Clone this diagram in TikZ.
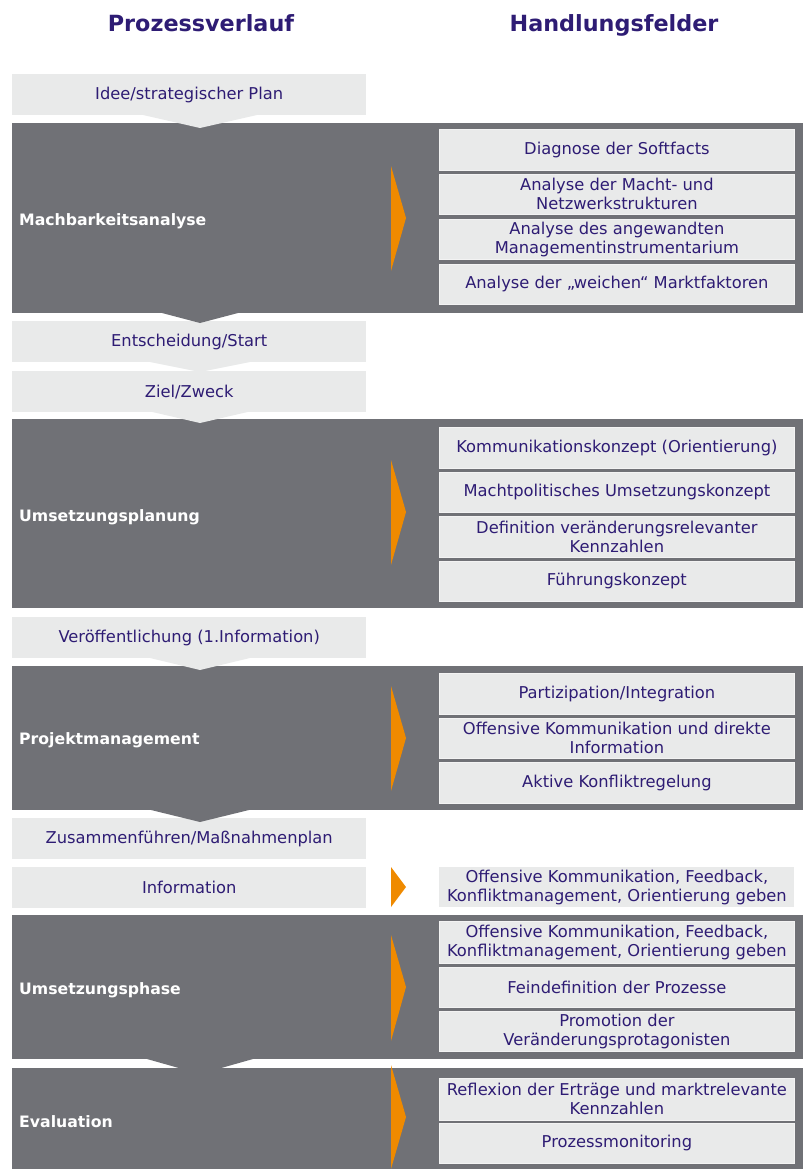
\documentclass[tikz,border=0pt]{standalone}
\usepackage{fontspec}
\setmainfont{DejaVu Sans}
\usetikzlibrary{calc}
\definecolor{darkbar}{HTML}{707176}
\definecolor{lightbox}{HTML}{E9EAEA}
\definecolor{boxedge}{HTML}{F3F3F3}
\definecolor{txt}{HTML}{2E1C74}
\definecolor{orng}{HTML}{EF8A00}
\begin{document}
\begin{tikzpicture}[x=1pt,y=-1pt,
  phasebox/.style={fill=darkbar, draw=none, minimum width=791pt, inner sep=0pt, anchor=north west},
  lbox/.style={fill=lightbox, draw=none, text=txt, font=\fontsize{16.3}{19}\selectfont, align=center,
    minimum width=354pt, minimum height=41pt, inner sep=0pt, anchor=north west},
  rbox/.style={fill=lightbox, draw=boxedge, line width=0.8pt, text=txt, font=\fontsize{16.3}{19}\selectfont, align=center,
    minimum width=355pt, minimum height=41pt, inner sep=0pt, anchor=north west},
  plabel/.style={text=white, font=\bfseries\fontsize{15.7}{18}\selectfont, anchor=base west, inner sep=0pt},
  head/.style={text=txt, font=\bfseries\fontsize{22.3}{26}\selectfont, anchor=base, inner sep=0pt},
  marker/.style={fill=orng, draw=none},
  lchev/.style={fill=lightbox, draw=none},
  dchev/.style={fill=darkbar, draw=none},
]
\useasboundingbox (0,0) rectangle (803,1169);

% headers
\node[head] (h1) at (201,32) {Prozessverlauf};
\node[head] (h2) at (614,32) {Handlungsfelder};

% dark phase bars
\node[phasebox, minimum height=190pt] (mach) at (12,123) {};
\node[phasebox, minimum height=189pt] (plan) at (12,419) {};
\node[phasebox, minimum height=144pt] (proj) at (12,666) {};
\node[phasebox, minimum height=144pt] (umph) at (12,915) {};
\node[phasebox, minimum height=101pt] (eval) at (12,1068) {};

% phase labels
\node[plabel] (lmach) at (19,225) {Machbarkeitsanalyse};
\node[plabel] (lplan) at (19,521) {Umsetzungsplanung};
\node[plabel] (lproj) at (19,744) {Projektmanagement};
\node[plabel] (lumph) at (19,994) {Umsetzungsphase};
\node[plabel] (leval) at (19,1127) {Evaluation};

% left process boxes
\node[lbox] (idee) at (12,74) {Idee/strategischer Plan};
\node[lbox] (ents) at (12,321) {Entscheidung/Start};
\node[lbox] (ziel) at (12,371) {Ziel/Zweck};
\node[lbox] (verf) at (12,617) {Ver\"offentlichung (1.Information)};
\node[lbox] (zusa) at (12,818) {Zusammenf\"uhren/Ma\ss nahmenplan};
\node[lbox] (info) at (12,867) {Information};

% right boxes
\node[rbox] (r1) at (439,129) {Diagnose der Softfacts};
\node[rbox, minimum height=40pt] (r2) at (439,174) {Analyse der Macht- und\\Netzwerkstrukturen};
\node[rbox, minimum height=40pt] (r3) at (439,219) {Analyse des angewandten\\Managementinstrumentarium};
\node[rbox, minimum height=40pt] (r4) at (439,264) {Analyse der „weichen“ Marktfaktoren};

\node[rbox] (r5) at (439,427) {Kommunikationskonzept (Orientierung)};
\node[rbox, minimum height=40pt] (r6) at (439,472) {Machtpolitisches Umsetzungskonzept};
\node[rbox] (r7) at (439,516) {Definition ver\"anderungsrelevanter\\Kennzahlen};
\node[rbox, minimum height=40pt] (r8) at (439,561) {F\"uhrungskonzept};

\node[rbox] (r9) at (439,673) {Partizipation/Integration};
\node[rbox, minimum height=40pt] (r10) at (439,718) {Offensive Kommunikation und direkte\\Information};
\node[rbox] (r11) at (439,762) {Aktive Konfliktregelung};

\node[rbox, draw=none, minimum height=40pt] (r12) at (439,867) {Offensive Kommunikation, Feedback,\\Konfliktmanagement, Orientierung geben};

\node[rbox, minimum height=42pt] (r13) at (439,921) {Offensive Kommunikation, Feedback,\\Konfliktmanagement, Orientierung geben};
\node[rbox, minimum height=40pt] (r14) at (439,967) {Feindefinition der Prozesse};
\node[rbox, minimum height=40pt] (r15) at (439,1011) {Promotion der\\Ver\"anderungsprotagonisten};

\node[rbox, minimum height=42pt] (r16) at (439,1078) {Reflexion der Ertr\"age und marktrelevante\\Kennzahlen};
\node[rbox, minimum height=40pt] (r17) at (439,1123) {Prozessmonitoring};

% light chevrons (process boxes pointing down)
\fill[lchev] (143,115) -- (257,115) -- (200,128) -- cycle;
\fill[lchev] (150,362) -- (250,362) -- (200,372) -- cycle;
\fill[lchev] (148,411) -- (252,411) -- (200,423) -- cycle;
\fill[lchev] (150,658) -- (250,658) -- (200,670) -- cycle;

% dark chevrons
\fill[dchev] (162,313) -- (238,313) -- (200,323) -- cycle;
\fill[dchev] (151,810) -- (249,810) -- (200,822) -- cycle;
\fill[dchev] (147,1059) -- (253,1059) -- (200,1074) -- cycle;

% orange markers
\fill[marker] (391,166) -- (406,218) -- (391,271) -- cycle;
\fill[marker] (391,460) -- (406,512) -- (391,565) -- cycle;
\fill[marker] (391,686) -- (406,738) -- (391,791) -- cycle;
\fill[marker] (391,867) -- (406,887) -- (391,907) -- cycle;
\fill[marker] (391,935) -- (406,987) -- (391,1041) -- cycle;
\fill[marker] (391,1065) -- (406,1117) -- (391,1169) -- cycle;
\end{tikzpicture}
\end{document}
